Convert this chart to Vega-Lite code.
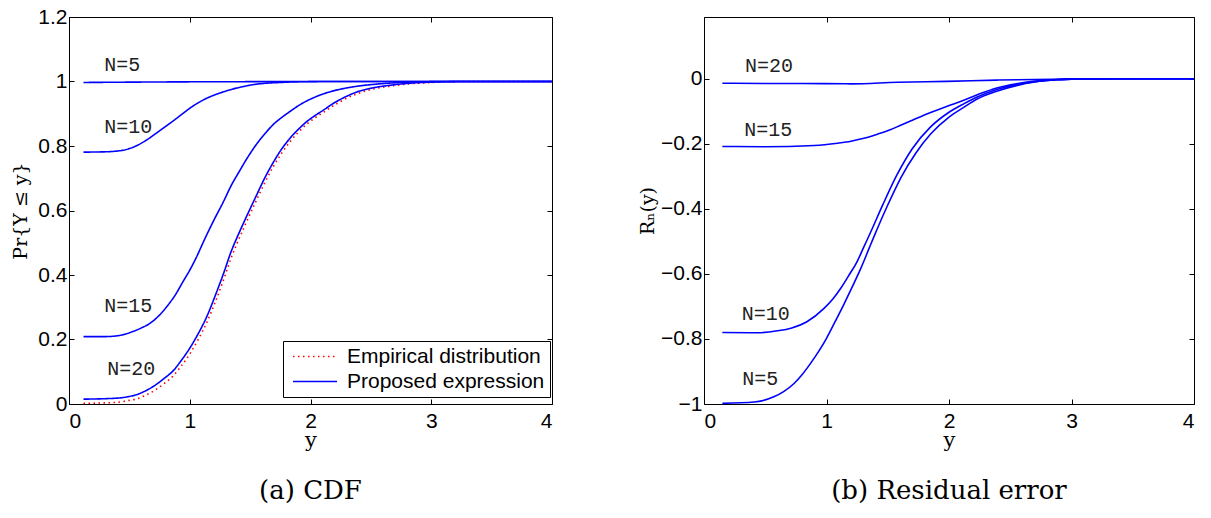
{
  "$schema": "https://vega.github.io/schema/vega-lite/v6.json",
  "background": "white",
  "padding": {"left": 11, "top": 5, "right": 10, "bottom": 10},
  "bounds": "flush",
  "spacing": 152,
  "config": {
    "view": {"stroke": "#000", "strokeWidth": 1},
    "axis": {"grid": false, "domain": false, "tickColor": "#000", "tickSize": -5, "tickWidth": 1, "labelFont": "Liberation Sans", "labelFontSize": 21, "labelColor": "#000", "titleFont": "DejaVu Serif", "titleFontWeight": "normal", "titleColor": "#000"}
  },
  "datasets": {
    "cdf": [
      {"N": "emp", "kind": "Empirical distribution", "x": 0.12, "p": 0.002},
      {"N": "emp", "kind": "Empirical distribution", "x": 0.39, "p": 0.005},
      {"N": "emp", "kind": "Empirical distribution", "x": 0.48, "p": 0.01},
      {"N": "emp", "kind": "Empirical distribution", "x": 0.56, "p": 0.016},
      {"N": "emp", "kind": "Empirical distribution", "x": 0.64, "p": 0.028},
      {"N": "emp", "kind": "Empirical distribution", "x": 0.72, "p": 0.045},
      {"N": "emp", "kind": "Empirical distribution", "x": 0.79, "p": 0.064},
      {"N": "emp", "kind": "Empirical distribution", "x": 0.86, "p": 0.086},
      {"N": "emp", "kind": "Empirical distribution", "x": 0.93, "p": 0.118},
      {"N": "emp", "kind": "Empirical distribution", "x": 1.0, "p": 0.155},
      {"N": "emp", "kind": "Empirical distribution", "x": 1.07, "p": 0.2},
      {"N": "emp", "kind": "Empirical distribution", "x": 1.14, "p": 0.252},
      {"N": "emp", "kind": "Empirical distribution", "x": 1.21, "p": 0.315},
      {"N": "emp", "kind": "Empirical distribution", "x": 1.28, "p": 0.385},
      {"N": "emp", "kind": "Empirical distribution", "x": 1.345, "p": 0.455},
      {"N": "emp", "kind": "Empirical distribution", "x": 1.39, "p": 0.497},
      {"N": "emp", "kind": "Empirical distribution", "x": 1.45, "p": 0.548},
      {"N": "emp", "kind": "Empirical distribution", "x": 1.55, "p": 0.63},
      {"N": "emp", "kind": "Empirical distribution", "x": 1.62, "p": 0.685},
      {"N": "emp", "kind": "Empirical distribution", "x": 1.69, "p": 0.735},
      {"N": "emp", "kind": "Empirical distribution", "x": 1.76, "p": 0.777},
      {"N": "emp", "kind": "Empirical distribution", "x": 1.83, "p": 0.813},
      {"N": "emp", "kind": "Empirical distribution", "x": 1.9, "p": 0.843},
      {"N": "emp", "kind": "Empirical distribution", "x": 1.97, "p": 0.868},
      {"N": "emp", "kind": "Empirical distribution", "x": 2.04, "p": 0.888},
      {"N": "emp", "kind": "Empirical distribution", "x": 2.11, "p": 0.905},
      {"N": "emp", "kind": "Empirical distribution", "x": 2.18, "p": 0.923},
      {"N": "emp", "kind": "Empirical distribution", "x": 2.24, "p": 0.936},
      {"N": "emp", "kind": "Empirical distribution", "x": 2.31, "p": 0.95},
      {"N": "emp", "kind": "Empirical distribution", "x": 2.38, "p": 0.961},
      {"N": "emp", "kind": "Empirical distribution", "x": 2.5, "p": 0.975},
      {"N": "emp", "kind": "Empirical distribution", "x": 2.65, "p": 0.985},
      {"N": "emp", "kind": "Empirical distribution", "x": 2.8, "p": 0.992},
      {"N": "emp", "kind": "Empirical distribution", "x": 3.0, "p": 0.997},
      {"N": "emp", "kind": "Empirical distribution", "x": 3.3, "p": 1.0},
      {"N": "emp", "kind": "Empirical distribution", "x": 4.0, "p": 1.0},

      {"N": "5", "kind": "Proposed expression", "x": 0.12, "p": 0.997},
      {"N": "5", "kind": "Proposed expression", "x": 0.5, "p": 0.998},
      {"N": "5", "kind": "Proposed expression", "x": 1.0, "p": 0.999},
      {"N": "5", "kind": "Proposed expression", "x": 1.5, "p": 0.9995},
      {"N": "5", "kind": "Proposed expression", "x": 2.0, "p": 1.0},
      {"N": "5", "kind": "Proposed expression", "x": 4.0, "p": 1.0},

      {"N": "10", "kind": "Proposed expression", "x": 0.12, "p": 0.781},
      {"N": "10", "kind": "Proposed expression", "x": 0.3, "p": 0.782},
      {"N": "10", "kind": "Proposed expression", "x": 0.39, "p": 0.784},
      {"N": "10", "kind": "Proposed expression", "x": 0.45, "p": 0.787},
      {"N": "10", "kind": "Proposed expression", "x": 0.5, "p": 0.792},
      {"N": "10", "kind": "Proposed expression", "x": 0.56, "p": 0.801},
      {"N": "10", "kind": "Proposed expression", "x": 0.64, "p": 0.818},
      {"N": "10", "kind": "Proposed expression", "x": 0.72, "p": 0.839},
      {"N": "10", "kind": "Proposed expression", "x": 0.79, "p": 0.858},
      {"N": "10", "kind": "Proposed expression", "x": 0.86, "p": 0.877},
      {"N": "10", "kind": "Proposed expression", "x": 0.93, "p": 0.897},
      {"N": "10", "kind": "Proposed expression", "x": 1.0, "p": 0.917},
      {"N": "10", "kind": "Proposed expression", "x": 1.07, "p": 0.934},
      {"N": "10", "kind": "Proposed expression", "x": 1.14, "p": 0.948},
      {"N": "10", "kind": "Proposed expression", "x": 1.21, "p": 0.959},
      {"N": "10", "kind": "Proposed expression", "x": 1.28, "p": 0.968},
      {"N": "10", "kind": "Proposed expression", "x": 1.36, "p": 0.977},
      {"N": "10", "kind": "Proposed expression", "x": 1.44, "p": 0.984},
      {"N": "10", "kind": "Proposed expression", "x": 1.52, "p": 0.99},
      {"N": "10", "kind": "Proposed expression", "x": 1.61, "p": 0.994},
      {"N": "10", "kind": "Proposed expression", "x": 1.75, "p": 0.997},
      {"N": "10", "kind": "Proposed expression", "x": 1.9, "p": 0.999},
      {"N": "10", "kind": "Proposed expression", "x": 2.2, "p": 1.0},
      {"N": "10", "kind": "Proposed expression", "x": 4.0, "p": 1.0},

      {"N": "15", "kind": "Proposed expression", "x": 0.12, "p": 0.209},
      {"N": "15", "kind": "Proposed expression", "x": 0.3, "p": 0.209},
      {"N": "15", "kind": "Proposed expression", "x": 0.39, "p": 0.211},
      {"N": "15", "kind": "Proposed expression", "x": 0.46, "p": 0.216},
      {"N": "15", "kind": "Proposed expression", "x": 0.53, "p": 0.225},
      {"N": "15", "kind": "Proposed expression", "x": 0.6, "p": 0.236},
      {"N": "15", "kind": "Proposed expression", "x": 0.67, "p": 0.25},
      {"N": "15", "kind": "Proposed expression", "x": 0.74, "p": 0.272},
      {"N": "15", "kind": "Proposed expression", "x": 0.81, "p": 0.302},
      {"N": "15", "kind": "Proposed expression", "x": 0.88, "p": 0.338},
      {"N": "15", "kind": "Proposed expression", "x": 0.945, "p": 0.38},
      {"N": "15", "kind": "Proposed expression", "x": 1.0, "p": 0.415},
      {"N": "15", "kind": "Proposed expression", "x": 1.055, "p": 0.455},
      {"N": "15", "kind": "Proposed expression", "x": 1.11, "p": 0.5},
      {"N": "15", "kind": "Proposed expression", "x": 1.15, "p": 0.532},
      {"N": "15", "kind": "Proposed expression", "x": 1.2, "p": 0.57},
      {"N": "15", "kind": "Proposed expression", "x": 1.28, "p": 0.628},
      {"N": "15", "kind": "Proposed expression", "x": 1.34, "p": 0.675},
      {"N": "15", "kind": "Proposed expression", "x": 1.41, "p": 0.721},
      {"N": "15", "kind": "Proposed expression", "x": 1.48, "p": 0.765},
      {"N": "15", "kind": "Proposed expression", "x": 1.55, "p": 0.804},
      {"N": "15", "kind": "Proposed expression", "x": 1.62, "p": 0.837},
      {"N": "15", "kind": "Proposed expression", "x": 1.69, "p": 0.866},
      {"N": "15", "kind": "Proposed expression", "x": 1.76, "p": 0.888},
      {"N": "15", "kind": "Proposed expression", "x": 1.83, "p": 0.907},
      {"N": "15", "kind": "Proposed expression", "x": 1.9, "p": 0.925},
      {"N": "15", "kind": "Proposed expression", "x": 1.97, "p": 0.94},
      {"N": "15", "kind": "Proposed expression", "x": 2.04, "p": 0.952},
      {"N": "15", "kind": "Proposed expression", "x": 2.11, "p": 0.962},
      {"N": "15", "kind": "Proposed expression", "x": 2.2, "p": 0.972},
      {"N": "15", "kind": "Proposed expression", "x": 2.3, "p": 0.98},
      {"N": "15", "kind": "Proposed expression", "x": 2.4, "p": 0.986},
      {"N": "15", "kind": "Proposed expression", "x": 2.55, "p": 0.992},
      {"N": "15", "kind": "Proposed expression", "x": 2.7, "p": 0.996},
      {"N": "15", "kind": "Proposed expression", "x": 2.9, "p": 0.999},
      {"N": "15", "kind": "Proposed expression", "x": 3.2, "p": 1.0},
      {"N": "15", "kind": "Proposed expression", "x": 4.0, "p": 1.0},

      {"N": "20", "kind": "Proposed expression", "x": 0.12, "p": 0.015},
      {"N": "20", "kind": "Proposed expression", "x": 0.39, "p": 0.018},
      {"N": "20", "kind": "Proposed expression", "x": 0.48, "p": 0.022},
      {"N": "20", "kind": "Proposed expression", "x": 0.56, "p": 0.029},
      {"N": "20", "kind": "Proposed expression", "x": 0.64, "p": 0.042},
      {"N": "20", "kind": "Proposed expression", "x": 0.72, "p": 0.06},
      {"N": "20", "kind": "Proposed expression", "x": 0.79, "p": 0.08},
      {"N": "20", "kind": "Proposed expression", "x": 0.86, "p": 0.102},
      {"N": "20", "kind": "Proposed expression", "x": 0.93, "p": 0.135},
      {"N": "20", "kind": "Proposed expression", "x": 1.0, "p": 0.173},
      {"N": "20", "kind": "Proposed expression", "x": 1.07, "p": 0.218},
      {"N": "20", "kind": "Proposed expression", "x": 1.14, "p": 0.27},
      {"N": "20", "kind": "Proposed expression", "x": 1.21, "p": 0.335},
      {"N": "20", "kind": "Proposed expression", "x": 1.28, "p": 0.405},
      {"N": "20", "kind": "Proposed expression", "x": 1.345, "p": 0.475},
      {"N": "20", "kind": "Proposed expression", "x": 1.39, "p": 0.515},
      {"N": "20", "kind": "Proposed expression", "x": 1.45, "p": 0.565},
      {"N": "20", "kind": "Proposed expression", "x": 1.55, "p": 0.645},
      {"N": "20", "kind": "Proposed expression", "x": 1.62, "p": 0.7},
      {"N": "20", "kind": "Proposed expression", "x": 1.69, "p": 0.748},
      {"N": "20", "kind": "Proposed expression", "x": 1.76, "p": 0.79},
      {"N": "20", "kind": "Proposed expression", "x": 1.83, "p": 0.824},
      {"N": "20", "kind": "Proposed expression", "x": 1.9, "p": 0.852},
      {"N": "20", "kind": "Proposed expression", "x": 1.97, "p": 0.876},
      {"N": "20", "kind": "Proposed expression", "x": 2.04, "p": 0.895},
      {"N": "20", "kind": "Proposed expression", "x": 2.11, "p": 0.912},
      {"N": "20", "kind": "Proposed expression", "x": 2.18, "p": 0.93},
      {"N": "20", "kind": "Proposed expression", "x": 2.24, "p": 0.943},
      {"N": "20", "kind": "Proposed expression", "x": 2.31, "p": 0.956},
      {"N": "20", "kind": "Proposed expression", "x": 2.38, "p": 0.967},
      {"N": "20", "kind": "Proposed expression", "x": 2.5, "p": 0.979},
      {"N": "20", "kind": "Proposed expression", "x": 2.65, "p": 0.988},
      {"N": "20", "kind": "Proposed expression", "x": 2.8, "p": 0.994},
      {"N": "20", "kind": "Proposed expression", "x": 3.0, "p": 0.998},
      {"N": "20", "kind": "Proposed expression", "x": 3.3, "p": 1.0},
      {"N": "20", "kind": "Proposed expression", "x": 4.0, "p": 1.0}
    ],
    "res": [
      {"N": "20", "x": 0.15, "r": -0.0135},
      {"N": "20", "x": 0.49, "r": -0.0145},
      {"N": "20", "x": 0.76, "r": -0.0145},
      {"N": "20", "x": 1.2, "r": -0.0155},
      {"N": "20", "x": 1.58, "r": -0.0105},
      {"N": "20", "x": 1.98, "r": -0.008},
      {"N": "20", "x": 2.39, "r": -0.004},
      {"N": "20", "x": 2.7, "r": -0.002},
      {"N": "20", "x": 3.0, "r": -0.001},
      {"N": "20", "x": 4.0, "r": 0.0},

      {"N": "15", "x": 0.15, "r": -0.208},
      {"N": "15", "x": 0.49, "r": -0.209},
      {"N": "15", "x": 0.9, "r": -0.205},
      {"N": "15", "x": 1.09, "r": -0.198},
      {"N": "15", "x": 1.2, "r": -0.192},
      {"N": "15", "x": 1.305, "r": -0.183},
      {"N": "15", "x": 1.41, "r": -0.171},
      {"N": "15", "x": 1.52, "r": -0.157},
      {"N": "15", "x": 1.61, "r": -0.142},
      {"N": "15", "x": 1.71, "r": -0.126},
      {"N": "15", "x": 1.85, "r": -0.104},
      {"N": "15", "x": 1.98, "r": -0.085},
      {"N": "15", "x": 2.12, "r": -0.066},
      {"N": "15", "x": 2.25, "r": -0.046},
      {"N": "15", "x": 2.39, "r": -0.028},
      {"N": "15", "x": 2.55, "r": -0.015},
      {"N": "15", "x": 2.7, "r": -0.007},
      {"N": "15", "x": 2.88, "r": -0.002},
      {"N": "15", "x": 3.0, "r": -0.001},
      {"N": "15", "x": 3.5, "r": 0.0},
      {"N": "15", "x": 4.0, "r": 0.0},

      {"N": "10", "x": 0.15, "r": -0.78},
      {"N": "10", "x": 0.44, "r": -0.781},
      {"N": "10", "x": 0.6, "r": -0.775},
      {"N": "10", "x": 0.71, "r": -0.767},
      {"N": "10", "x": 0.84, "r": -0.747},
      {"N": "10", "x": 0.98, "r": -0.706},
      {"N": "10", "x": 1.05, "r": -0.678},
      {"N": "10", "x": 1.115, "r": -0.645},
      {"N": "10", "x": 1.18, "r": -0.606},
      {"N": "10", "x": 1.25, "r": -0.562},
      {"N": "10", "x": 1.305, "r": -0.517},
      {"N": "10", "x": 1.36, "r": -0.472},
      {"N": "10", "x": 1.46, "r": -0.387},
      {"N": "10", "x": 1.576, "r": -0.295},
      {"N": "10", "x": 1.7, "r": -0.215},
      {"N": "10", "x": 1.85, "r": -0.148},
      {"N": "10", "x": 2.0, "r": -0.103},
      {"N": "10", "x": 2.12, "r": -0.077},
      {"N": "10", "x": 2.23, "r": -0.056},
      {"N": "10", "x": 2.39, "r": -0.033},
      {"N": "10", "x": 2.55, "r": -0.018},
      {"N": "10", "x": 2.7, "r": -0.009},
      {"N": "10", "x": 2.88, "r": -0.003},
      {"N": "10", "x": 3.0, "r": -0.001},
      {"N": "10", "x": 3.5, "r": 0.0},
      {"N": "10", "x": 4.0, "r": 0.0},

      {"N": "5", "x": 0.15, "r": -0.998},
      {"N": "5", "x": 0.41, "r": -0.994},
      {"N": "5", "x": 0.57, "r": -0.978},
      {"N": "5", "x": 0.65, "r": -0.962},
      {"N": "5", "x": 0.735, "r": -0.937},
      {"N": "5", "x": 0.8, "r": -0.91},
      {"N": "5", "x": 0.87, "r": -0.875},
      {"N": "5", "x": 0.94, "r": -0.836},
      {"N": "5", "x": 1.0, "r": -0.798},
      {"N": "5", "x": 1.07, "r": -0.747},
      {"N": "5", "x": 1.14, "r": -0.695},
      {"N": "5", "x": 1.21, "r": -0.64},
      {"N": "5", "x": 1.28, "r": -0.583},
      {"N": "5", "x": 1.346, "r": -0.523},
      {"N": "5", "x": 1.39, "r": -0.483},
      {"N": "5", "x": 1.5, "r": -0.388},
      {"N": "5", "x": 1.61, "r": -0.302},
      {"N": "5", "x": 1.73, "r": -0.228},
      {"N": "5", "x": 1.85, "r": -0.17},
      {"N": "5", "x": 2.0, "r": -0.118},
      {"N": "5", "x": 2.12, "r": -0.088},
      {"N": "5", "x": 2.23, "r": -0.062},
      {"N": "5", "x": 2.39, "r": -0.038},
      {"N": "5", "x": 2.55, "r": -0.021},
      {"N": "5", "x": 2.7, "r": -0.01},
      {"N": "5", "x": 2.88, "r": -0.003},
      {"N": "5", "x": 3.0, "r": -0.001},
      {"N": "5", "x": 3.5, "r": 0.0},
      {"N": "5", "x": 4.0, "r": 0.0}
    ],
    "lab_cdf": [
      {"label": "N=5", "x": 0.44, "p": 1.052},
      {"label": "N=10", "x": 0.49, "p": 0.858},
      {"label": "N=15", "x": 0.49, "p": 0.305},
      {"label": "N=20", "x": 0.515, "p": 0.108}
    ],
    "lab_res": [
      {"label": "N=20", "x": 0.53, "r": 0.038},
      {"label": "N=15", "x": 0.524, "r": -0.157},
      {"label": "N=10", "x": 0.505, "r": -0.724},
      {"label": "N=5", "x": 0.46, "r": -0.924}
    ]
  },
  "hconcat": [
    {
      "width": 483,
      "height": 387,
      "title": {"text": "(a) CDF", "orient": "bottom", "anchor": "middle", "font": "DejaVu Serif", "fontSize": 26, "fontWeight": "normal", "color": "#000", "offset": 28},
      "layer": [
        {
          "data": {"name": "cdf"},
          "transform": [{"filter": "datum.kind === 'Empirical distribution'"}],
          "mark": {"type": "line", "strokeWidth": 1.6, "interpolate": "monotone"},
          "encoding": {
            "x": {"field": "x", "type": "quantitative", "scale": {"domain": [0, 4], "nice": false, "zero": false}, "axis": null},
            "y": {"field": "p", "type": "quantitative", "scale": {"domain": [0, 1.2], "nice": false}, "axis": null},
            "detail": {"field": "N"},
            "color": {"field": "kind", "type": "nominal", "scale": {"domain": ["Empirical distribution", "Proposed expression"], "range": ["#ff0000", "#0000ff"]},
              "legend": {"title": null, "orient": "none", "legendX": 214, "legendY": 324, "strokeColor": "#000", "fillColor": "#fff", "padding": 5, "rowPadding": 3, "labelFont": "Liberation Sans", "labelFontSize": 21, "labelColor": "#000", "labelLimit": 400, "symbolType": "M-1,0H7", "symbolSize": 121, "symbolStrokeWidth": 1.6, "labelOffset": 38}},
            "strokeDash": {"field": "kind", "type": "nominal", "scale": {"domain": ["Empirical distribution", "Proposed expression"], "range": [[1.5, 3.5], [1, 0]]},
              "legend": {"title": null, "orient": "none", "legendX": 214, "legendY": 324, "strokeColor": "#000", "fillColor": "#fff", "padding": 5, "rowPadding": 3, "labelFont": "Liberation Sans", "labelFontSize": 21, "labelColor": "#000", "labelLimit": 400, "symbolType": "M-1,0H7", "symbolSize": 121, "symbolStrokeWidth": 1.6, "labelOffset": 38}}
          }
        },
        {
          "data": {"name": "cdf"},
          "transform": [{"filter": "datum.kind === 'Proposed expression'"}],
          "mark": {"type": "line", "strokeWidth": 1.6, "interpolate": "monotone"},
          "encoding": {
            "x": {"field": "x", "type": "quantitative", "scale": {"domain": [0, 4], "nice": false, "zero": false},
              "axis": {"orient": "bottom", "values": [0, 1, 2, 3, 4], "format": "~g", "title": "y", "titleFontSize": 21, "titlePadding": -2, "labelPadding": 11}},
            "y": {"field": "p", "type": "quantitative", "scale": {"domain": [0, 1.2], "nice": false},
              "axis": {"orient": "left", "values": [0, 0.2, 0.4, 0.6, 0.8, 1, 1.2], "format": "~g", "title": "Pr{Y ≤ y}", "titleFontSize": 19, "titlePadding": 7, "labelPadding": 7}},
            "detail": {"field": "N"},
            "color": {"field": "kind", "type": "nominal", "scale": {"domain": ["Empirical distribution", "Proposed expression"], "range": ["#ff0000", "#0000ff"]},
              "legend": {"title": null, "orient": "none", "legendX": 214, "legendY": 324, "strokeColor": "#000", "fillColor": "#fff", "padding": 5, "rowPadding": 3, "labelFont": "Liberation Sans", "labelFontSize": 21, "labelColor": "#000", "labelLimit": 400, "symbolType": "M-1,0H7", "symbolSize": 121, "symbolStrokeWidth": 1.6, "labelOffset": 38}},
            "strokeDash": {"field": "kind", "type": "nominal", "scale": {"domain": ["Empirical distribution", "Proposed expression"], "range": [[1.5, 3.5], [1, 0]]},
              "legend": {"title": null, "orient": "none", "legendX": 214, "legendY": 324, "strokeColor": "#000", "fillColor": "#fff", "padding": 5, "rowPadding": 3, "labelFont": "Liberation Sans", "labelFontSize": 21, "labelColor": "#000", "labelLimit": 400, "symbolType": "M-1,0H7", "symbolSize": 121, "symbolStrokeWidth": 1.6, "labelOffset": 38}}
          }
        },
        {
          "data": {"name": "lab_cdf"},
          "mark": {"type": "text", "font": "Liberation Mono", "fontSize": 20, "color": "#222", "align": "center", "baseline": "middle"},
          "encoding": {
            "x": {"field": "x", "type": "quantitative", "scale": {"domain": [0, 4], "nice": false, "zero": false},
              "axis": {"orient": "top", "values": [0, 1, 2, 3, 4], "labels": false, "title": null}},
            "y": {"field": "p", "type": "quantitative", "scale": {"domain": [0, 1.2], "nice": false},
              "axis": {"orient": "right", "values": [0, 0.2, 0.4, 0.6, 0.8, 1, 1.2], "labels": false, "title": null}},
            "text": {"field": "label", "type": "nominal"}
          }
        }
      ],
      "resolve": {"axis": {"x": "independent", "y": "independent"}}
    },
    {
      "width": 490,
      "height": 387,
      "title": {"text": "(b) Residual error", "orient": "bottom", "anchor": "middle", "font": "DejaVu Serif", "fontSize": 26, "fontWeight": "normal", "color": "#000", "offset": 28},
      "layer": [
        {
          "data": {"name": "res"},
          "mark": {"type": "line", "strokeWidth": 1.6, "color": "#0000ff", "interpolate": "monotone"},
          "encoding": {
            "x": {"field": "x", "type": "quantitative", "scale": {"domain": [0, 4], "nice": false, "zero": false},
              "axis": {"orient": "bottom", "values": [0, 1, 2, 3, 4], "format": "~g", "title": "y", "titleFontSize": 21, "titlePadding": -2, "labelPadding": 11}},
            "y": {"field": "r", "type": "quantitative", "scale": {"domain": [-1, 0.19], "nice": false, "zero": false},
              "axis": {"orient": "left", "values": [-1, -0.8, -0.6, -0.4, -0.2, 0], "format": "~g", "title": "Rₙ(y)", "titleFontSize": 19, "titlePadding": 3, "labelPadding": 7}},
            "detail": {"field": "N"}
          }
        },
        {
          "data": {"name": "lab_res"},
          "mark": {"type": "text", "font": "Liberation Mono", "fontSize": 20, "color": "#222", "align": "center", "baseline": "middle"},
          "encoding": {
            "x": {"field": "x", "type": "quantitative", "scale": {"domain": [0, 4], "nice": false, "zero": false},
              "axis": {"orient": "top", "values": [0, 1, 2, 3, 4], "labels": false, "title": null}},
            "y": {"field": "r", "type": "quantitative", "scale": {"domain": [-1, 0.19], "nice": false, "zero": false},
              "axis": {"orient": "right", "values": [-1, -0.8, -0.6, -0.4, -0.2, 0], "labels": false, "title": null}},
            "text": {"field": "label", "type": "nominal"}
          }
        }
      ],
      "resolve": {"axis": {"x": "independent", "y": "independent"}}
    }
  ]
}
